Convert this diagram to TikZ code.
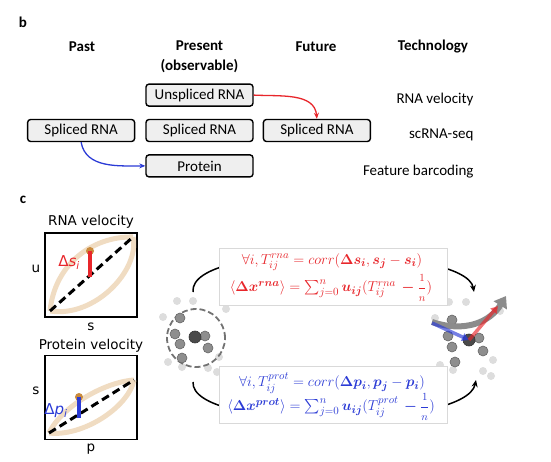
\documentclass[tikz,border=0pt]{standalone}
\usepackage{amsmath}
\usepackage{bm}
\usepackage{fontspec}
\setmainfont{Carlito}
\newfontfamily\plotfont{DejaVu Sans}
\usetikzlibrary{arrows.meta,positioning}

\definecolor{boxgray}{HTML}{EFEFEF}
\definecolor{velred}{HTML}{E8262B}
\definecolor{velblue}{HTML}{2B3BD6}
\definecolor{leafcol}{HTML}{F0DCC2}
\definecolor{dotcol}{HTML}{C98A3C}
\definecolor{darkcell}{HTML}{4A4A4A}
\definecolor{midcell}{HTML}{8E8E8E}
\definecolor{lightcell}{HTML}{DDDDDD}

\begin{document}
\begin{tikzpicture}[x=1pt,y=-1pt,font=\fontsize{15}{17}\selectfont,
    mol/.style={draw,rounded corners=3pt,fill=boxgray,line width=1.4pt,
      minimum width=107pt,minimum height=22pt,inner sep=0pt},
    head/.style={font=\fontsize{15}{20}\selectfont\bfseries,align=center},
    tech/.style={anchor=east},
    plot/.style={draw,line width=1.1pt,minimum width=92pt,minimum height=84pt,inner sep=0pt},
    ptext/.style={font=\plotfont\fontsize{13.5}{15}\selectfont},
    diag/.style={line width=3pt,dash pattern=on 8pt off 4.5pt},
    leaf/.style={leafcol,line width=5pt},
    eqbox/.style={draw=black!15,fill=white,line width=0.8pt,minimum width=228pt,
      minimum height=57pt},
    eq/.style={font=\fontsize{15}{17}\selectfont,inner sep=0pt},
    cycle/.style={line width=1.5pt,-{Stealth[length=7pt,width=6pt]}},
    lcell/.style={circle,fill=lightcell,inner sep=0pt,minimum size=8pt},
    mcell/.style={circle,fill=midcell,draw=black!60,line width=0.6pt,inner sep=0pt,minimum size=10pt},
    dcell/.style={circle,fill=darkcell,draw=black!80,line width=0.6pt,inner sep=0pt,minimum size=12pt}]
  \useasboundingbox (0,0) rectangle (551,462);

  \node[font=\fontsize{15}{17}\selectfont\bfseries] (b) at (23,22) {b};
  \node[head] (past)    at (82,47)    {Past};
  \node[head] (present) at (199.5,57) {Present\\(observable)};
  \node[head] (future)  at (316,47)   {Future};
  \node[head] (techno)  at (433,47)   {Technology};

  \node[mol] (splnow)                         at (199.5,130.5) {Spliced RNA};
  \node[mol] (unspl)  [above=12pt of splnow]  {Unspliced RNA};
  \node[mol] (splfut) [right=9pt of splnow]   {Spliced RNA};
  \node[mol] (splold) [left=10pt of splnow]   {Spliced RNA};
  \node[mol] (prot)   [below=12pt of splnow]  {Protein};

  \node[tech] (velo)  at (477,100) {RNA velocity};
  \node[tech] (scseq) at (477,135) {scRNA-seq};
  \node[tech] (fbar)  at (477,172) {Feature barcoding};

  \path[line width=1.3pt,-{Stealth[length=6pt,width=5pt]}]
    (unspl.east)   edge[velred,out=-3,in=95]   (splfut.north)
    (splold.south) edge[velblue,out=-80,in=180] (prot.west);

  \node[font=\fontsize{15}{17}\selectfont\bfseries] (c) at (23,200) {c};

  % RNA velocity phase portrait
  \node[ptext] (rnatitle) at (91,222) {RNA velocity};
  \node[plot]  (rnaplot)  at (91,275) {};
  \node[ptext] (ulab)     at (36,269) {u};
  \node[ptext] (slab)     at (91,327) {s};
  \coordinate (r0) at (50,311);
  \coordinate (r1) at (133,237);
  \draw[leaf] (r0) .. controls (55,262) and (95,236) .. (r1);
  \draw[leaf] (r0) .. controls (95,318) and (140,270) .. (r1);
  \draw[diag] (r0) -- (r1);
  \coordinate (rbase) at (90,277);
  \node[circle,fill=dotcol,inner sep=0pt,minimum size=8pt] (rdot) at (90,251) {};
  \draw[velred,line width=4pt] (rbase) -- (rdot.center);
  \node[ptext,velred,font=\plotfont\fontsize{15}{17}\selectfont] (dslab) at (69,263)
    {Δ\textit{s}\textsubscript{\textit{i}}};

  % protein velocity phase portrait
  \node[ptext] (prtitle) at (91,346) {Protein velocity};
  \node[plot]  (prplot)  at (91,397.5) {};
  \node[ptext] (s2lab)   at (36,391) {s};
  \node[ptext] (plab)    at (91,449) {p};
  \coordinate (p0) at (49,433);
  \coordinate (p1) at (134,380);
  \draw[leaf] (p0) .. controls (62,406) and (105,382) .. (p1);
  \draw[leaf] (p0) .. controls (82,437) and (128,408) .. (p1);
  \draw[diag] (p0) -- (p1);
  \coordinate (pbase) at (79,418);
  \node[circle,fill=dotcol,inner sep=0pt,minimum size=8pt] (pdot) at (79,397) {};
  \draw[velblue,line width=4pt] (pbase) -- (pdot.center);
  \node[ptext,velblue,font=\plotfont\fontsize{15}{17}\selectfont] (dplab) at (56,411)
    {Δ\textit{p}\textsubscript{\textit{i}}};

  % cells before
  \foreach \x/\y [count=\i] in {177/301,193/301,226/309,163/317,168/362,182/367,208/368,217/372,219/357}
    \node[lcell] (a\i) at (\x,\y) {};
  \node[circle,draw=black!55,line width=1.8pt,dash pattern=on 6pt off 3pt,
    minimum size=58pt,inner sep=0pt] (hood) at (196,338) {};
  \foreach \x/\y [count=\i] in {180/318,175/334,180/344,205/336,208/348,182/358}
    \node[mcell] (m\i) at (\x,\y) {};
  \node[dcell] (celli) at (195,337) {};

  % cells after
  \foreach \x/\y [count=\i] in {449/302,466/302,435/318,500/311,493/360,483/371,491/376,440/365,453/370}
    \node[lcell] (b\i) at (\x,\y) {};
  \foreach \x/\y [count=\i] in {452/320,448/336,479/338,452/347,483/351,455/362}
    \node[mcell] (n\i) at (\x,\y) {};
  \node[dcell] (cellj) at (469,340) {};
  \coordinate (vstart) at (432,322);
  \coordinate (vtip)   at (506,296);
  \draw[black!45,line width=6pt,-{Triangle[length=11pt,width=15pt]}]
    (vstart) .. controls (465,333) and (490,322) .. (vtip);
  \coordinate (bstart) at (432,323);
  \coordinate (rtip)   at (498,306);
  \draw[velblue,opacity=0.65,line width=3.5pt,-{Triangle[length=7pt,width=8pt]}]
    (bstart) -- (cellj.center);
  \draw[velred,opacity=0.65,line width=3.5pt,-{Triangle[length=7pt,width=8pt]}]
    (cellj.center) -- (rtip);

  % correlation arcs and formulas
  \coordinate (tstart) at (193,292);
  \coordinate (tend)   at (474,292);
  \coordinate (bst)    at (193,382);
  \coordinate (bend)   at (476,380);
  \draw[cycle] (tstart) .. controls (188,240) and (466,245) .. (tend);
  \draw[cycle] (bst) .. controls (190,432) and (466,430) .. (bend);

  \node[eqbox] (rnabox) at (333,276.5) {};
  \node[eq,text=velred] (rnaeq1) at (332,262)
    {$\forall i, T_{ij}^{rna} = corr(\bm{\Delta s_i}, \bm{s_j} - \bm{s_i})$};
  \node[eq,text=velred] (rnaeq2) at (331,288)
    {$\langle \bm{\Delta x^{rna}}\rangle = \sum_{j=0}^{n} \bm{u_{ij}}(T_{ij}^{rna}\,\bm{-}\dfrac{\scriptstyle 1}{\scriptstyle n})$};
  \node[eqbox] (protbox) at (333,395) {};
  \node[eq,text=velblue] (proteq1) at (332,383)
    {$\forall i, T_{ij}^{prot} = corr(\bm{\Delta p_i}, \bm{p_j} - \bm{p_i})$};
  \node[eq,text=velblue] (proteq2) at (331,407)
    {$\langle \bm{\Delta x^{prot}}\rangle = \sum_{j=0}^{n} \bm{u_{ij}}(T_{ij}^{prot}\,\bm{-}\dfrac{\scriptstyle 1}{\scriptstyle n})$};
\end{tikzpicture}
\end{document}
